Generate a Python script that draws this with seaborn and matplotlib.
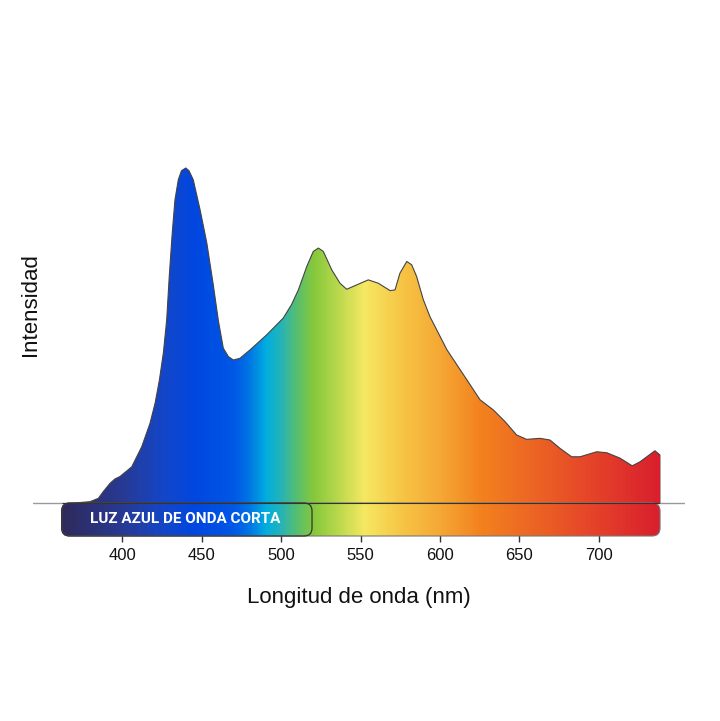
import numpy as np
import matplotlib
matplotlib.use('Agg')
import matplotlib.pyplot as plt
import seaborn as sns
from matplotlib.patches import FancyBboxPatch, Polygon
from matplotlib.colors import LinearSegmentedColormap

# spectrum (wavelength nm, relative intensity %)
wavelength = [370.0, 379.9, 385.1, 388.2, 392.5, 395.6, 398.7, 406.1, 412.4, 417.6,
              420.8, 423.5, 426.0, 428.1, 429.7, 431.6, 433.3, 435.4, 437.4, 440.1,
              442.1, 444.8, 449.1, 453.3, 457.4, 460.6, 463.7, 466.9, 470.0, 474.2,
              480.5, 491.0, 501.4, 506.6, 510.9, 516.2, 520.3, 523.5, 526.6, 531.9,
              537.1, 541.3, 547.6, 554.9, 561.2, 568.6, 571.7, 574.8, 579.1, 582.2,
              585.3, 589.5, 593.7, 604.4, 617.0, 625.2, 633.5, 640.9, 648.2, 654.5,
              662.9, 669.2, 675.5, 682.8, 688.1, 698.6, 704.9, 713.2, 720.9, 725.8,
              735.2, 738.4]
intensity = [0.0, 0.4, 1.4, 3.4, 5.9, 7.2, 7.9, 10.8, 16.8, 23.8,
             29.8, 36.7, 44.8, 54.7, 67.6, 80.7, 90.5, 96.5, 99.2, 100.0,
             99.2, 96.5, 87.5, 77.7, 65.1, 54.4, 46.2, 43.7, 42.7, 43.2,
             45.7, 50.2, 55.2, 59.2, 63.6, 70.6, 75.1, 76.1, 75.1, 69.6,
             65.6, 63.8, 65.1, 66.6, 65.6, 63.4, 63.6, 68.6, 72.1, 71.1,
             67.6, 60.7, 55.6, 45.7, 36.7, 30.8, 27.8, 24.3, 20.3, 19.0,
             19.3, 18.8, 16.3, 13.8, 13.8, 15.3, 15.0, 13.4, 11.1, 12.3,
             15.6, 14.3]

# colour stops of the spectrum band
stop_nm = [362, 400, 425, 445, 470, 480, 490, 500, 510, 520, 535, 552, 575, 600, 625, 660, 700, 738.4]
stop_col = ['#2f2a5c', '#283a94', '#1446c8', '#0047e0', '#0058e6', '#0078e4', '#00aee0',
            '#28b4b4', '#5abf6c', '#86c83c', '#b8d84c', '#f5e862', '#f7c646', '#f5a835',
            '#f3821e', '#ec6424', '#e4402a', '#d91f2e']

ticks = [400, 450, 500, 550, 600, 650, 700]
band_lo, band_hi = 362, 738.4
blue_hi = 519.5
band_bottom = -9.85

sns.set_style('white')
plt.rcParams['font.family'] = ['Liberation Sans', 'DejaVu Sans']

fig = plt.figure(figsize=(7.2, 7.21), dpi=100)
ax = fig.add_axes([33/720, (721-541.5)/721, 652/720, (541.5-150)/721])
xlim = (344, 754.1)
ylim = (-11.49, 105.37)

pos = [(v - band_lo) / (band_hi - band_lo) for v in stop_nm]
cmap = LinearSegmentedColormap.from_list('spec', list(zip(pos, stop_col)))
grad = np.linspace(band_lo, band_hi, 800)[None, :]

# curve area
poly = Polygon(list(zip(wavelength, intensity)) + [(band_hi, 0)], closed=True,
               facecolor='none', edgecolor='none')
ax.add_patch(poly)
im1 = ax.imshow(grad, extent=(band_lo, band_hi, band_bottom, 101), aspect='auto',
                cmap=cmap, vmin=band_lo, vmax=band_hi, interpolation='bilinear', zorder=1)
im1.set_clip_path(poly)

# bottom band with rounded corners
px_x = 652 / (xlim[1] - xlim[0])
px_y = 391.5 / (ylim[1] - ylim[0])
asp = px_x / px_y
r = 8 / px_x
band = FancyBboxPatch((band_lo, band_bottom), band_hi - band_lo, -band_bottom,
                      boxstyle=f'round,pad=0,rounding_size={r}', mutation_aspect=asp,
                      facecolor='none', edgecolor='#777777', lw=0.8, zorder=3)
ax.add_patch(band)
im2 = ax.imshow(grad, extent=(band_lo, band_hi, band_bottom, 101), aspect='auto',
                cmap=cmap, vmin=band_lo, vmax=band_hi, interpolation='bilinear', zorder=1)
im2.set_clip_path(band)

blue_box = FancyBboxPatch((band_lo, band_bottom), blue_hi - band_lo, -band_bottom,
                          boxstyle=f'round,pad=0,rounding_size={r}', mutation_aspect=asp,
                          facecolor='none', edgecolor='#333333', lw=0.9, zorder=4)
ax.add_patch(blue_box)

sns.lineplot(x=wavelength, y=intensity, color='#444444', lw=0.8, ax=ax, zorder=5,
             solid_joinstyle='round')
ax.plot([band_hi, band_hi], [intensity[-1], 0], color='#999999', lw=0.6, zorder=5)

ax.axhline(0, color='#9a9a9a', lw=1, zorder=0.5)
ax.hlines(0, band_lo, band_hi, color='#333333', lw=0.8, zorder=4)

ax.text(379.9, -4.8, 'LUZ AZUL DE ONDA CORTA', color='white', fontsize=11,
        fontweight='bold', family='Roboto', va='center', ha='left', zorder=6)

ax.set_xlim(*xlim)
ax.set_ylim(*ylim)
ax.set_xticks(ticks)
ax.set_yticks([])
ax.tick_params(axis='x', direction='in', length=8, width=1, color='#333333',
               pad=5, labelsize=12, labelcolor='#111111', bottom=True)
for s in ax.spines.values():
    s.set_visible(False)
for t in ax.xaxis.get_major_ticks():
    t.tick1line.set_zorder(7)

ax.set_xlabel('Longitud de onda (nm)', fontsize=16, va='center', color='#111111')
ax.xaxis.set_label_coords(0.5, (541.5-597)/391.5)
ax.set_ylabel('Intensidad', fontsize=16, va='center', color='#111111')
ax.yaxis.set_label_coords((30-33)/652, (541.5-305)/391.5)

fig.savefig('out.png', dpi=100, facecolor='white')
